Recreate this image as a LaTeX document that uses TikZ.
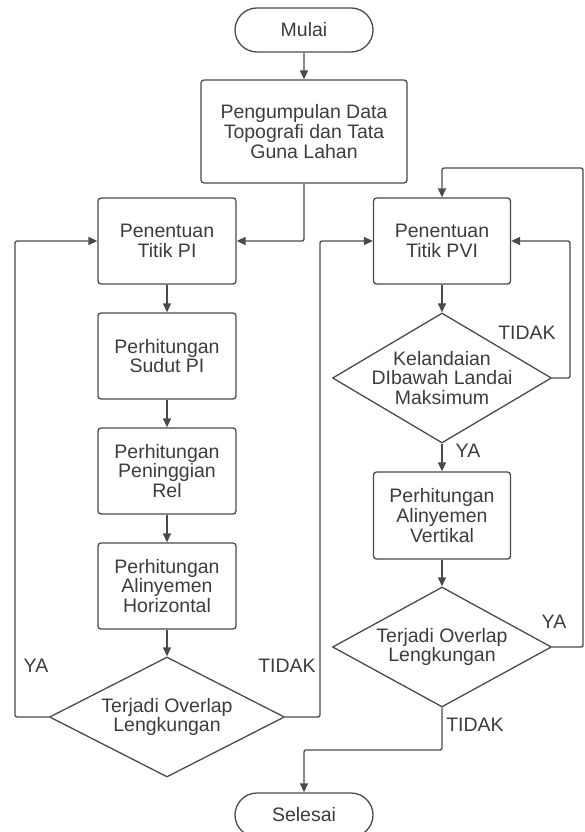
\documentclass[tikz,border=0pt]{standalone}
\usepackage{fontspec}
\setmainfont{Liberation Sans}
\usetikzlibrary{shapes.geometric,shapes.misc,arrows.meta,positioning}

\definecolor{linegray}{HTML}{4A4A4A}
\definecolor{textgray}{HTML}{3C3C3C}

\tikzset{
  every node/.style={text=textgray, font=\fontsize{19.5}{19.6}\selectfont},
  process/.style={draw=linegray, line width=1.3pt, rounded corners=3pt, align=center,
    minimum width=138pt, minimum height=86pt, inner sep=0pt},
  terminal/.style={draw=linegray, line width=1.3pt, rounded rectangle,
    minimum width=138pt, minimum height=44pt, inner sep=0pt},
  decision/.style={draw=linegray, line width=1.3pt, diamond, inner sep=0pt,
    minimum width=219pt, minimum height=120pt},
  flow/.style={draw=linegray, line width=1.3pt, rounded corners=2pt, ->}
}

\begin{document}
\begin{tikzpicture} [x=1pt, y=-1pt, >={Stealth[length=9pt,width=8pt,inset=0pt]}]

\useasboundingbox (0,0) rectangle (585,832);

\node [terminal] (start) at (304,30) {Mulai};
\node [process, minimum width=206pt, minimum height=103pt] (data) at (304,131.5)
  {Pengumpulan Data\\Topografi dan Tata\\Guna Lahan};

% left column
\foreach \t [count=\y] in {{Penentuan\\Titik PI},{Perhitungan\\Sudut PI},{Perhitungan\\Peninggian\\Rel},{Perhitungan\\Alinyemen\\Horizontal}}
  \node [process] (left-\y) at (167,126+\y*115) {\t};

\node [decision, minimum width=235pt] (overlapL) at (167,717) {};
\node [align=center] (overlapL-text) at (overlapL) {Terjadi Overlap\\Lengkungan};

% right column
\node [process, minimum width=137pt] (right-1) at (442,241) {Penentuan\\Titik PVI};
\node [decision, minimum height=130pt] (landai) at (442,378) {};
\node [align=center] (landai-text) at (landai) {Kelandaian\\DIbawah Landai\\Maksimum};
\node [process, minimum width=137pt, minimum height=87pt] (right-2) at (442,515.5)
  {Perhitungan\\Alinyemen\\Vertikal};
\node [decision] (overlapR) at (442,647) {};
\node [align=center] (overlapR-text) at (overlapR) {Terjadi Overlap\\Lengkungan};

\node [terminal] (stop) at (304,815) {Selesai};

\coordinate (loopL) at (15,241);
\coordinate (loopM) at (320,241);
\coordinate (loopN) at (570,241);
\coordinate (loopTop) at (583,168);
\coordinate (bend) at (304,750);

\draw [flow] (start) -- (data);
\draw [flow] (data.south) |- (left-1.east);

\foreach \i [count=\j from 2] in {1,...,3}
  \draw [flow] (left-\i) -- (left-\j);
\draw [flow] (left-4) -- (overlapL);

\draw [flow] (overlapL.west) -| (loopL) -- (left-1.west);
\draw [flow] (overlapL.east) -| (loopM) -- (right-1.west);

\draw [flow] (right-1) -- (landai);
\draw [flow] (landai.east) -| (loopN) -- (right-1.east);
\draw [flow] (landai) -- (right-2);
\draw [flow] (right-2) -- (overlapR);
\draw [flow] (overlapR.east) -| (loopTop) -| (right-1.north);
\draw [flow] (overlapR.south) |- (bend) -- (stop);

% branch labels
\node (ya-1) at (36,666) {YA};
\node (tidak-1) at (287,666) {TIDAK};
\node (tidak-2) at (527,333) {TIDAK};
\node (ya-2) at (468,451) {YA};
\node (ya-3) at (554,622) {YA};
\node (tidak-3) at (475,725) {TIDAK};

\end{tikzpicture}
\end{document}
